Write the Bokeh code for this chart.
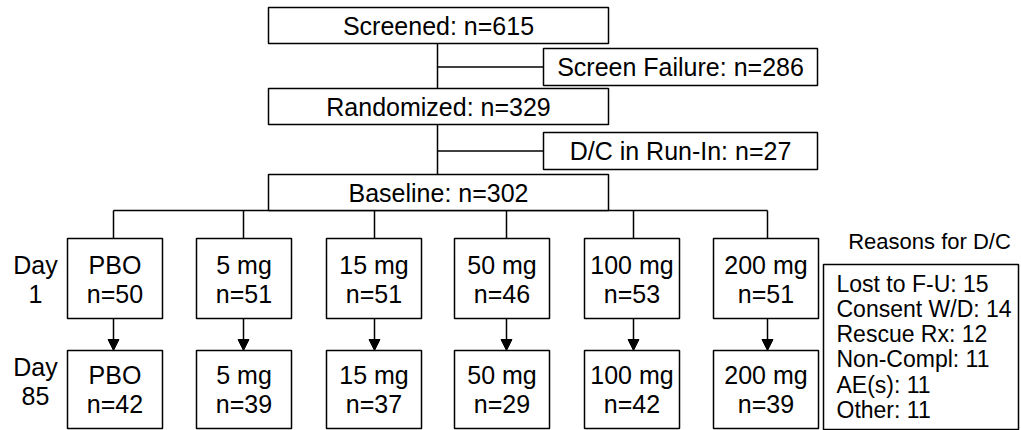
from bokeh.plotting import figure
from bokeh.models import Range1d, Arrow, NormalHead, ColumnDataSource
from bokeh.core.properties import value
from bokeh.embed import file_html
from bokeh.resources import INLINE

# ---- data ----
stages = ["Screened", "Randomized", "Baseline"]
stage_n = [615, 329, 302]
exits = ["Screen Failure", "D/C in Run-In"]
exit_n = [286, 27]
arms = ["PBO", "5 mg", "15 mg", "50 mg", "100 mg", "200 mg"]
day1_n = [50, 51, 51, 46, 53, 51]
day85_n = [42, 39, 37, 29, 42, 39]
days = ["Day", "1", "Day", "85"]
reasons_title = "Reasons for D/C"
reasons = ["Lost to F-U", "Consent W/D", "Rescue Rx", "Non-Compl", "AE(s)", "Other"]
reason_n = [15, 14, 12, 11, 11, 11]

# ---- layout (pixel-like units) ----
FONT = value("Liberation Sans")
LW = 1.5
main_l, main_r = 268, 608
stage_top = [7, 88, 174]
stage_h = 36
exit_l, exit_r = 543, 817
exit_top = [48, 132]
exit_h = 37
trunk_x = 437
arm_left = [67, 196, 326, 454, 584, 713]
arm_w = [95, 95, 95, 95, 95, 105]
arm_conn = [113, 243, 374, 506, 633, 767]
tree_y = 210
d1_top, d1_bot = 238, 318
d85_top, d85_bot = 350, 428

p = figure(width=1021, height=430, x_range=Range1d(0, 1021), y_range=Range1d(430, 0),
           output_backend="svg", toolbar_location=None, min_border=0)
p.axis.visible = False
p.grid.visible = False
p.outline_line_color = None
p.background_fill_color = "white"
p.border_fill_color = "white"

# connectors
xs0, ys0, xs1, ys1 = [], [], [], []
for i in range(len(stages) - 1):
    xs0.append(trunk_x); ys0.append(stage_top[i] + stage_h)
    xs1.append(trunk_x); ys1.append(stage_top[i + 1])
for t in exit_top:
    ym = t + exit_h / 2
    xs0.append(trunk_x); ys0.append(ym); xs1.append(exit_l); ys1.append(ym)
xs0.append(min(arm_conn)); ys0.append(tree_y); xs1.append(max(arm_conn)); ys1.append(tree_y)
for cx in arm_conn:
    xs0.append(cx); ys0.append(tree_y); xs1.append(cx); ys1.append(d1_top)
p.segment(xs0, ys0, xs1, ys1, line_color="black", line_width=LW)

# arrows Day1 -> Day85
asrc = ColumnDataSource(dict(x=arm_conn, y0=[d1_bot] * len(arms), y1=[d85_top] * len(arms)))
p.add_layout(Arrow(end=NormalHead(size=11, fill_color="black", line_color="black", line_width=1),
                   x_start="x", y_start="y0", x_end="x", y_end="y1", source=asrc,
                   line_color="black", line_width=LW))

# boxes
qL, qR, qT, qB = [], [], [], []
for t in stage_top:
    qL.append(main_l); qR.append(main_r); qT.append(t); qB.append(t + stage_h)
for t in exit_top:
    qL.append(exit_l); qR.append(exit_r); qT.append(t); qB.append(t + exit_h)
for l, w in zip(arm_left, arm_w):
    for (a, b) in [(d1_top, d1_bot), (d85_top, d85_bot)]:
        qL.append(l); qR.append(l + w); qT.append(a); qB.append(b)
qL.append(823); qR.append(1018); qT.append(264); qB.append(429)
p.quad(left=qL, right=qR, top=qT, bottom=qB, fill_color="white", line_color="black", line_width=LW)

# texts
tx, ty, tt = [], [], []
for s, n, t in zip(stages, stage_n, stage_top):
    tx.append((main_l + main_r) / 2); ty.append(t + stage_h / 2); tt.append(f"{s}: n={n}")
for s, n, t in zip(exits, exit_n, exit_top):
    tx.append((exit_l + exit_r) / 2); ty.append(t + exit_h / 2); tt.append(f"{s}: n={n}")
for a, n1, n2, l, w in zip(arms, day1_n, day85_n, arm_left, arm_w):
    cx = l + w / 2
    tx += [cx, cx, cx, cx]
    ty += [264.5, 293.5, 374, 403.5]
    tt += [a, f"n={n1}", a, f"n={n2}"]
tx += [35, 35, 35, 35]
ty += [264, 293.5, 366, 395]
tt += days
p.text(x=tx, y=ty, text=tt, text_font=FONT, text_font_size=value("25px"),
       text_align="center", text_baseline="middle", text_color="black")

p.text(x=[929], y=[241], text=[reasons_title], text_font=FONT, text_font_size=value("22px"),
       text_align="center", text_baseline="middle", text_color="black")
p.text(x=[836] * len(reasons), y=[283 + 25.3 * i for i in range(len(reasons))],
       text=[f"{r}: {n}" for r, n in zip(reasons, reason_n)], text_font=FONT,
       text_font_size=value("23px"), text_align="left", text_baseline="middle", text_color="black")

open("out.html", "w").write(file_html(p, INLINE))
